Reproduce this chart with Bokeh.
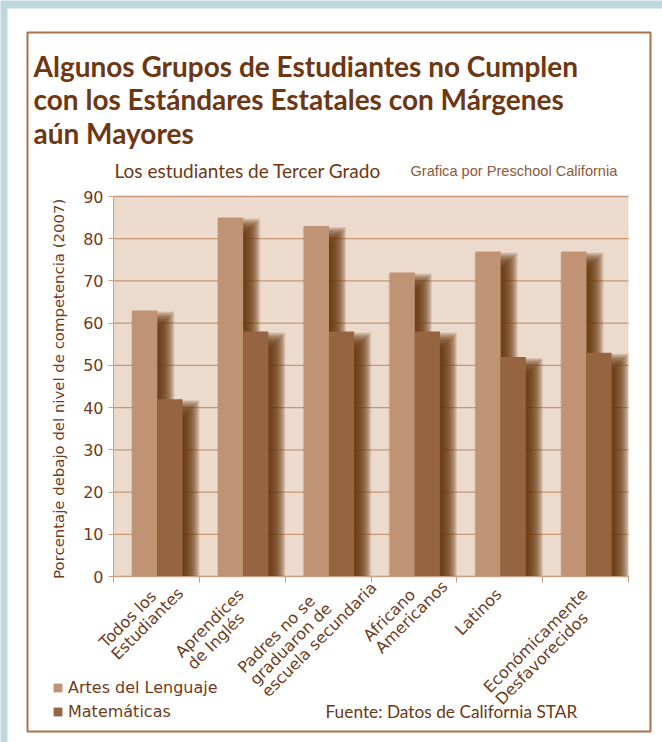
import math
import numpy as np
from bokeh.plotting import figure
from bokeh.models import (Range1d, FixedTicker, Label, Legend, LegendItem,
                          ColumnDataSource)
from bokeh.embed import file_html
from bokeh.resources import INLINE

# ---------------- data ----------------
categories = [
    ["Todos los", "Estudiantes"],
    ["Aprendices", "de Inglés"],
    ["Padres no se", "graduaron de", "escuela secundaria"],
    ["Africano", "Americanos"],
    ["Latinos"],
    ["Económicamente", "Desfavorecidos"],
]
artes = [63, 85, 83, 72, 77, 77]
matematicas = [42, 58, 58, 58, 52, 53]
series_names = ["Artes del Lenguaje", "Matemáticas"]
y_ticks = [0, 10, 20, 30, 40, 50, 60, 70, 80, 90]

title_lines = ["Algunos Grupos de Estudiantes no Cumplen",
               "con los Estándares Estatales con Márgenes",
               "aún Mayores"]
subtitle = "Los estudiantes de Tercer Grado"
credit = "Grafica por Preschool California"
source = "Fuente: Datos de California STAR"
y_title = "Porcentaje debajo del nivel de competencia  (2007)"

# ---------------- style / geometry ----------------
FIG_W, FIG_H = 662, 742
N = len(categories)
Y_MAX = y_ticks[-1]
PLOT_L, PLOT_R, PLOT_T, PLOT_B = 113, 628, 196, 576   # plot area in page px
PX_X = (PLOT_R - PLOT_L) / N
PX_Y = (PLOT_B - PLOT_T) / Y_MAX


def xd(px):
    return (px - PLOT_L) / PX_X


def yd(py):
    return (PLOT_B - py) / PX_Y


LIGHT = "#bf9374"
DARK = "#966440"
SHADOW = "#6a3610"
BG = "#ecdacd"
GRID = "#c49878"
AXIS = "#c9a285"
TXT = "#6e3c1c"
TITLE_C = "#6d3714"
BORDER = "#a6714d"
PAGE = "#bfd8de"
BASE_FIX = 0.45   # vertical correction of label anchors (fraction of font size)

p = figure(width=FIG_W, height=FIG_H, output_backend="svg", toolbar_location=None,
           x_range=Range1d(xd(0), xd(FIG_W)), y_range=Range1d(yd(FIG_H), yd(0)),
           min_border=0, title_location=None)
p.background_fill_color = PAGE
p.border_fill_color = "white"
p.outline_line_color = None
p.grid.visible = False

# white card, its brown border, plot background
p.quad(left=xd(7), right=xd(FIG_W), bottom=yd(FIG_H), top=yd(8),
       fill_color="white", line_color=None)
p.quad(left=xd(27), right=xd(650), bottom=yd(731), top=yd(32),
       fill_color=None, line_color=BORDER, line_width=2)
p.quad(left=0, right=N, bottom=0, top=Y_MAX, fill_color=BG, line_color=None)

# horizontal grid lines
p.segment(x0=[0] * len(y_ticks), x1=[N] * len(y_ticks), y0=y_ticks, y1=y_ticks,
          line_color=GRID, line_width=1.3)

# ---------------- axes (drawn at the data origin) ----------------
p.yaxis.fixed_location = 0
p.yaxis.bounds = (0, Y_MAX)
p.yaxis.ticker = FixedTicker(ticks=y_ticks)
p.yaxis.axis_line_color = AXIS
p.yaxis.major_tick_line_color = AXIS
p.yaxis.minor_tick_line_color = None
p.yaxis.major_tick_out = 5
p.yaxis.major_tick_in = 0
p.yaxis.major_label_standoff = 5
p.yaxis.major_label_text_font = "DejaVu Sans"
p.yaxis.major_label_text_font_size = "16px"
p.yaxis.major_label_text_color = TXT
p.yaxis.axis_label = y_title
p.yaxis.axis_label_text_font = "DejaVu Sans"
p.yaxis.axis_label_text_font_size = "14.9px"
p.yaxis.axis_label_text_font_style = "normal"
p.yaxis.axis_label_text_color = TXT
p.yaxis.axis_label_standoff = 12

# x axis: only boundary ticks (as minor ticks, so no tick labels are produced)
p.xaxis.fixed_location = 0
p.xaxis.bounds = (0, N)
p.xaxis.ticker = FixedTicker(ticks=[], minor_ticks=list(range(N + 1)))
p.xaxis.axis_line_color = AXIS
p.xaxis.major_tick_line_color = None
p.xaxis.minor_tick_line_color = AXIS
p.xaxis.minor_tick_out = 6
p.xaxis.minor_tick_in = 0

# ---------------- bars with soft shadows ----------------
idx = np.arange(N)
BAR_W = 0.293
src = ColumnDataSource(dict(
    xl=idx + 0.364, xd=idx + 0.657,
    artes=np.array(artes, float), mat=np.array(matematicas, float)))

SH_DX, SH_DY = 8, 10
for col, xcol in (("artes", "xl"), ("mat", "xd")):
    for e in range(-7, 10):
        p.vbar(x=src.data[xcol] + SH_DX / PX_X,
               top=src.data[col] - (SH_DY - e) / PX_Y, bottom=0,
               width=BAR_W + 2 * e / PX_X,
               fill_color=SHADOW, fill_alpha=0.145, line_color=None)

r_light = p.vbar(x="xl", top="artes", bottom=0, width=BAR_W, source=src,
                 fill_color=LIGHT, line_color=None)
r_dark = p.vbar(x="xd", top="mat", bottom=0, width=BAR_W, source=src,
                fill_color=DARK, line_color=None)

# ---------------- legend ----------------
legend = Legend(items=[LegendItem(label=series_names[0], renderers=[r_light]),
                       LegendItem(label=series_names[1], renderers=[r_dark])],
                location=(52, FIG_H - 677 - 44),
                glyph_width=11, glyph_height=11, label_height=20, spacing=4,
                padding=0, margin=0, label_standoff=5,
                border_line_color=None, background_fill_alpha=0,
                label_text_font="DejaVu Sans", label_text_font_size="16px",
                label_text_color=TXT)
p.add_layout(legend)

# ---------------- category labels (rotated, left-aligned lines) ----------------
CW = {' ': 0.318, 'a': 0.613, 'b': 0.635, 'c': 0.550, 'd': 0.635, 'e': 0.615,
      'f': 0.352, 'g': 0.635, 'h': 0.634, 'i': 0.278, 'j': 0.278, 'l': 0.278,
      'm': 0.974, 'n': 0.634, 'o': 0.612, 'p': 0.635, 'r': 0.411, 's': 0.521,
      't': 0.392, 'u': 0.634, 'v': 0.592, 'A': 0.684, 'D': 0.770, 'E': 0.632,
      'I': 0.295, 'L': 0.557, 'P': 0.603, 'T': 0.611, 'é': 0.615, 'ó': 0.612}
LBL_FS = 16
LH = 17
ANG = math.pi / 4
c, s = math.cos(ANG), math.sin(ANG)


def text_w(t):
    return sum(CW.get(ch, 0.6) for ch in t) * LBL_FS


for i, lines in enumerate(categories):
    cx = PLOT_L + (i + 0.5) * PX_X
    widths = [text_w(t) for t in lines]
    k_long = widths.index(max(widths))
    extra = max(0, k_long - 1)              # blocks whose 3rd line is longest sit lower-left
    rx, ry = cx - 1 - 14 * extra, PLOT_B + 15 + 6 * extra
    w0 = widths[0]
    bx, by = rx - w0 * c, ry + w0 * s       # anchor of first line's left end (px)
    for k, line in enumerate(lines):
        lx, ly = bx + k * LH * s, by + k * LH * c
        p.add_layout(Label(x=xd(lx), y=yd(ly), text=line, angle=ANG,
                           text_align="left", text_baseline="alphabetic",
                           text_font="DejaVu Sans", text_font_size=f"{LBL_FS}px",
                           text_color=TXT))


# ---------------- texts ----------------
def add_text(t, x, y_base, size, font="Lato", style="normal", color=TITLE_C):
    p.add_layout(Label(x=xd(x), y=yd(y_base - BASE_FIX * size), text=t,
                       text_font=font, text_font_style=style,
                       text_font_size=f"{size}px", text_color=color,
                       text_baseline="alphabetic"))


for k, t in enumerate(title_lines):
    add_text(t, 33, 78 + 33.5 * k, 28, style="bold")

add_text(subtitle, 114, 179, 19)
add_text(credit, 410, 177, 14.6, font="Liberation Sans", color="#8b5a3a")
add_text(source, 325, 719, 17.3)

open("out.html", "w").write(file_html(p, INLINE))
